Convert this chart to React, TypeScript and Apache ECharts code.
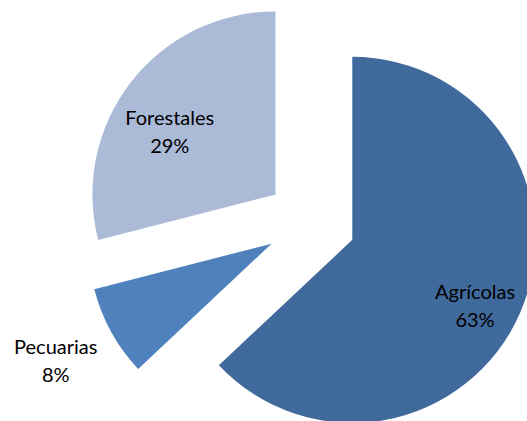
import React, { useEffect, useRef } from "react";
import * as echarts from "echarts";

const categories = ["Agrícolas", "Pecuarias", "Forestales"];
const values = [63, 8, 29];
const colors = ["#416A9C", "#4F81BD", "#AABAD7"];
const labelShifts: [number, number][] = [
  [36, 28],
  [-133, 71],
  [-31, -5],
];

export default function App() {
  const ref = useRef<HTMLDivElement>(null);
  useEffect(() => {
    document.body.style.margin = "0";
    const chart = echarts.init(ref.current!, null, { renderer: "svg" });
    chart.setOption({
      animation: false,
      backgroundColor: "#ffffff",
      series: [
        {
          type: "pie",
          center: [311, 222],
          radius: 183,
          startAngle: 90,
          clockwise: true,
          selectedMode: "multiple",
          selectedOffset: 45,
          avoidLabelOverlap: false,
          emphasis: { disabled: true },
          labelLine: { show: false },
          label: {
            show: true,
            position: "inside",
            formatter: "{b}\n{d}%",
            fontFamily: "Lato",
            fontSize: 20,
            lineHeight: 28,
            color: "#000000",
            align: "center",
          },
          labelLayout: (params: any) => ({
            dx: labelShifts[params.dataIndex][0],
            dy: labelShifts[params.dataIndex][1],
          }),
          data: categories.map((name, i) => ({
            name,
            value: values[i],
            selected: true,
            itemStyle: { color: colors[i], borderWidth: 0 },
            select: { itemStyle: { color: colors[i], borderWidth: 0 } },
          })),
        },
      ],
    });
    return () => chart.dispose();
  }, []);
  return <div ref={ref} style={{ width: 527, height: 421 }} />;
}
